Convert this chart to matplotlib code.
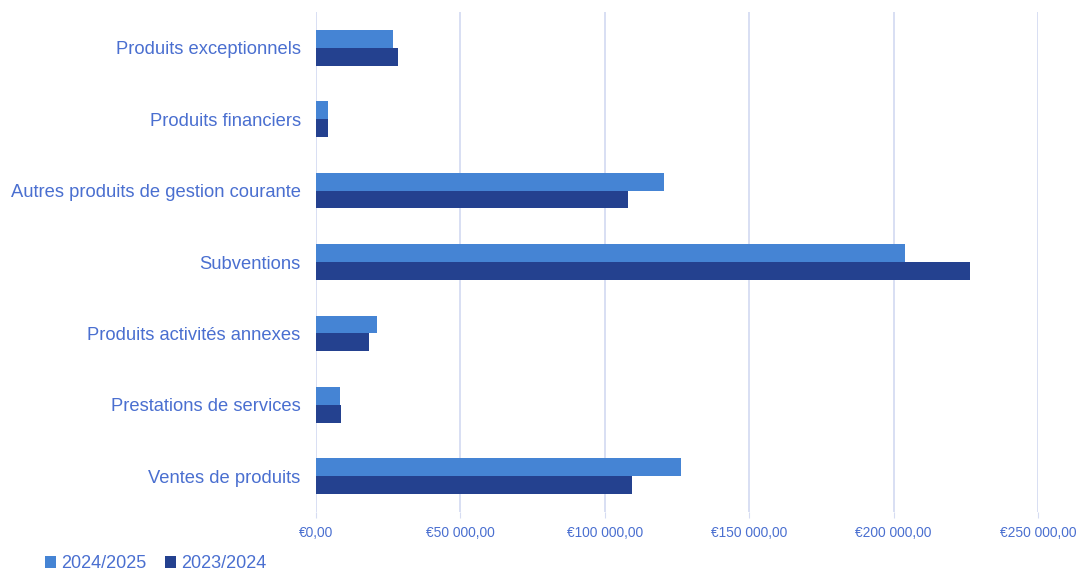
import numpy as np
import matplotlib.pyplot as plt
from matplotlib.ticker import FuncFormatter

plt.rcParams['font.family'] = ['Liberation Sans', 'DejaVu Sans']

categories = ["Produits exceptionnels", "Produits financiers",
              "Autres produits de gestion courante", "Subventions",
              "Produits activités annexes", "Prestations de services",
              "Ventes de produits"]
v2425 = [26600, 4000, 120400, 204100, 21100, 8300, 126300]
v2324 = [28500, 4000, 108100, 226600, 18300, 8800, 109500]
series = ["2024/2025", "2023/2024"]

light = '#4584D4'
dark = '#24418F'
txt = '#4A6FD0'
grid = '#D6DCF2'

fig = plt.figure(figsize=(10.78, 5.78), dpi=100)
ax = fig.add_axes([0.2931, 0.1142, 0.6698, 0.865])

y = np.arange(len(categories))
h = 0.25
ax.barh(y - h/2, v2425, height=h, color=light, label=series[0], zorder=3)
ax.barh(y + h/2, v2324, height=h, color=dark, label=series[1], zorder=3)

ax.set_ylim(len(categories) - 0.5, -0.5)
ax.set_xlim(0, 250000)
ax.set_xticks(np.arange(0, 250001, 50000))

def fmt(x, pos):
    s = f"{int(x):,}".replace(",", " ")
    return "€" + s + ",00"
ax.xaxis.set_major_formatter(FuncFormatter(fmt))

ax.set_yticks(y)
ax.set_yticklabels(categories, fontsize=13.2, color=txt)
ax.tick_params(axis='y', length=0, pad=11)
ax.tick_params(axis='x', length=4, color=grid, labelsize=9.9, labelcolor=txt, pad=6)

ax.grid(axis='x', color=grid, lw=1.3, zorder=0)
for s in ax.spines.values():
    s.set_visible(False)

leg = fig.legend(loc='lower left', bbox_to_anchor=(0.027, -0.018), ncol=2,
                 frameon=False, fontsize=13, handlelength=0.6, handleheight=0.6,
                 handletextpad=0.3, columnspacing=1.0)
for t in leg.get_texts():
    t.set_color(txt)

fig.savefig("out.png", dpi=100)
